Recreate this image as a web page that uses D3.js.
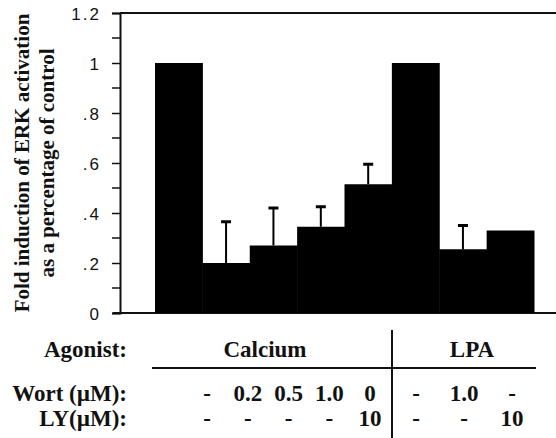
<!DOCTYPE html>
<html>
<head>
<meta charset="utf-8">
<script src="https://cdn.jsdelivr.net/npm/d3@7"></script>
<style>
  body { margin: 0; background: #fff; }
  svg { display: block; }
</style>
</head>
<body>
<div id="chart-container"></div>
<script>
// bar values (fold of control)
var conditions = ["ca-ctrl", "ca-w0.2", "ca-w0.5", "ca-w1.0", "ca-ly10", "lpa-ctrl", "lpa-w1.0", "lpa-ly10"];
var agonist = ["Calcium", "Calcium", "Calcium", "Calcium", "Calcium", "LPA", "LPA", "LPA"];
var values = [1.0, 0.20, 0.27, 0.345, 0.515, 1.0, 0.255, 0.33];
var errors = [0, 0.165, 0.15, 0.08, 0.08, 0, 0.095, 0];
var wortLabels = ["-", "0.2", "0.5", "1.0", "0", "-", "1.0", "-"];
var lyLabels = ["-", "-", "-", "-", "10", "-", "-", "10"];
var yTicks = [0, 0.2, 0.4, 0.6, 0.8, 1, 1.2];
var yTickLabels = ["0", ".2", ".4", ".6", ".8", "1", "1.2"];
var yMinor = [0.1, 0.3, 0.5, 0.7, 0.9, 1.1];

var SERIF = "'Liberation Serif', 'Times New Roman', Times, 'DejaVu Serif', serif";
var SANS = "'Liberation Sans', Arial, sans-serif";

var svg = d3.select("#chart-container").append("svg").attr("width", 556).attr("height", 438)

var x = d3.scaleBand().domain(conditions).range([155, 534]).padding(0);
var y = d3.scaleLinear().domain([0, 1.2]).range([313, 13]);

// top frame line and baseline
svg.append("line").attr("x1", 120).attr("x2", 556).attr("y1", y(1.2)).attr("y2", y(1.2))
  .attr("stroke", "#111").attr("stroke-width", 2)
svg.append("line").attr("x1", 113).attr("x2", 556).attr("y1", y(0)).attr("y2", y(0))
  .attr("stroke", "#111").attr("stroke-width", 2)

// y axis
var yAxis = d3.axisLeft(y).tickValues(yTicks).tickSize(8).tickPadding(11)
  .tickFormat(function(d, i) { return yTickLabels[i]; });
var gy = svg.append("g").attr("class", "y axis").attr("transform", "translate(120,0)").call(yAxis);
gy.attr("font-family", SANS).attr("font-size", 17);
gy.select(".domain").attr("stroke", "#111").attr("stroke-width", 2);
gy.selectAll(".tick line").attr("stroke", "#111").attr("stroke-width", 1.5);
gy.selectAll(".tick text").attr("dy", "0.36em").attr("fill", "#111")
  .style("letter-spacing", "2px");

svg.append("g").selectAll("line").data(yMinor).enter().append("line")
  .attr("x1", 112).attr("x2", 120)
  .attr("y1", function(d) { return y(d); }).attr("y2", function(d) { return y(d); })
  .attr("stroke", "#111").attr("stroke-width", 1.5)

// bars
svg.append("g").selectAll("rect").data(values).enter().append("rect")
  .attr("x", function(d, i) { return x(conditions[i]); })
  .attr("width", x.bandwidth() + 0.5)
  .attr("y", function(d) { return y(d); })
  .attr("height", function(d) { return y(0) - y(d); })
  .attr("fill", "#000")

// error bars (upper only)
var errG = svg.append("g").selectAll("g").data(values.map(function(v, i) { return {v: v, e: errors[i], c: conditions[i]}; })
  .filter(function(d) { return d.e > 0; })).enter().append("g")
errG.append("line")
  .attr("x1", function(d) { return x(d.c) + x.bandwidth() / 2; })
  .attr("x2", function(d) { return x(d.c) + x.bandwidth() / 2; })
  .attr("y1", function(d) { return y(d.v); })
  .attr("y2", function(d) { return y(d.v + d.e); })
  .attr("stroke", "#000").attr("stroke-width", 2)
errG.append("line")
  .attr("x1", function(d) { return x(d.c) + x.bandwidth() / 2 - 5; })
  .attr("x2", function(d) { return x(d.c) + x.bandwidth() / 2 + 5; })
  .attr("y1", function(d) { return y(d.v + d.e); })
  .attr("y2", function(d) { return y(d.v + d.e); })
  .attr("stroke", "#000").attr("stroke-width", 3)

function serifText(sel, size) {
  return sel.attr("font-family", SERIF).attr("font-weight", "bold").attr("font-size", size).attr("fill", "#111");
}

// y axis title
var ytitle = svg.append("g").attr("transform", "translate(0,163) rotate(-90)")
serifText(ytitle.append("text").attr("x", 0).attr("y", 29).attr("text-anchor", "middle"), 21)
  .text("Fold induction of ERK activation")
serifText(ytitle.append("text").attr("x", 0).attr("y", 54).attr("text-anchor", "middle"), 21)
  .text("as a percentage of control")

// treatment table under the chart
var calX = d3.scalePoint().domain(conditions.slice(0, 5)).range([207, 370]);
var lpaX = d3.scalePoint().domain(conditions.slice(5)).range([416, 512]);
function colX(c) { return calX.domain().indexOf(c) >= 0 ? calX(c) : lpaX(c); }

var table = svg.append("g").attr("class", "table")
var rowLabels = [{t: "Agonist:", y: 357}, {t: "Wort (\u00b5M):", y: 401}, {t: "LY(\u00b5M):", y: 426}];
serifText(table.selectAll("text.rowlab").data(rowLabels).enter().append("text")
  .attr("class", "rowlab").attr("x", 127).attr("y", function(d) { return d.y; })
  .attr("text-anchor", "end"), 23).text(function(d) { return d.t; })

var groups = Array.from(new Set(agonist));
serifText(table.selectAll("text.group").data(groups).enter().append("text")
  .attr("class", "group")
  .attr("x", function(g) { return g === "Calcium" ? 265 : 472; })
  .attr("y", 357).attr("text-anchor", "middle"), 23).text(function(g) { return g; })

table.append("line").attr("x1", 152).attr("x2", 536).attr("y1", 368).attr("y2", 368)
  .attr("stroke", "#111").attr("stroke-width", 2)
table.append("line").attr("x1", 392).attr("x2", 392).attr("y1", 330).attr("y2", 438)
  .attr("stroke", "#111").attr("stroke-width", 2)

serifText(table.selectAll("text.wort").data(wortLabels).enter().append("text")
  .attr("class", "wort").attr("x", function(d, i) { return colX(conditions[i]); }).attr("y", 401)
  .attr("text-anchor", "middle"), 23).text(function(d) { return d; })
serifText(table.selectAll("text.ly").data(lyLabels).enter().append("text")
  .attr("class", "ly").attr("x", function(d, i) { return colX(conditions[i]); }).attr("y", 426)
  .attr("text-anchor", "middle"), 23).text(function(d) { return d; })
</script>
</body>
</html>
